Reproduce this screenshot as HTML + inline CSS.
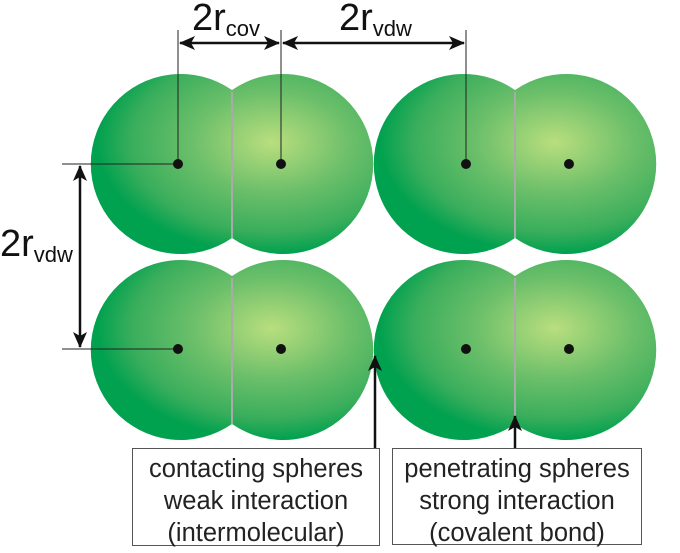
<!DOCTYPE html>
<html><head><style>body{margin:0;background:#fff}</style></head><body>
<svg width="680" height="548" viewBox="0 0 680 548" xmlns="http://www.w3.org/2000/svg" font-family="Liberation Sans, sans-serif">
<defs>
<radialGradient id="g" gradientUnits="objectBoundingBox" cx="0.64" cy="0.38" r="0.62">
<stop offset="0" stop-color="#b9de7e"/><stop offset="0.45" stop-color="#6cbf6a"/><stop offset="0.8" stop-color="#3aae5c"/><stop offset="1" stop-color="#00a14f"/>
</radialGradient>
<marker id="b" markerWidth="16" markerHeight="14" refX="15" refY="7" orient="auto-start-reverse" markerUnits="userSpaceOnUse"><path d="M0,0 L16,7 L0,14 L4,7z" fill="#111"/></marker>
</defs>
<g id="m">
<path d="M232,90 A90,90 0 1 0 232,238 A90,90 0 1 0 232,90z" fill="url(#g)"/>
<line x1="232" y1="92" x2="232" y2="238" stroke="#aaa" stroke-width="2"/>
</g>
<use href="#m" x="283" y="0"/>
<use href="#m" x="0" y="186"/>
<use href="#m" x="283" y="186"/>
<g stroke="#222" stroke-width="1">
<line x1="178" y1="30" x2="178" y2="163"/><line x1="281" y1="30" x2="281" y2="163"/><line x1="466" y1="30" x2="466" y2="163"/>
<line x1="62" y1="164" x2="178" y2="164"/><line x1="62" y1="349" x2="178" y2="349"/>
</g>
<g stroke="#111" stroke-width="2.5">
<line x1="180" y1="43" x2="279" y2="43" marker-start="url(#b)" marker-end="url(#b)"/>
<line x1="283" y1="43" x2="464" y2="43" marker-start="url(#b)" marker-end="url(#b)"/>
<line x1="80" y1="166" x2="80" y2="347" marker-start="url(#b)" marker-end="url(#b)"/>
<line x1="375" y1="448" x2="375" y2="356" marker-end="url(#b)"/>
<line x1="515" y1="448" x2="515" y2="416" marker-end="url(#b)"/>
</g>
<g fill="#111">
<circle cx="178" cy="164" r="5"/><circle cx="281" cy="164" r="5"/><circle cx="466" cy="164" r="5"/><circle cx="569" cy="164" r="5"/>
<circle cx="178" cy="349" r="5"/><circle cx="281" cy="349" r="5"/><circle cx="466" cy="349" r="5"/><circle cx="569" cy="349" r="5"/>
</g>
<g fill="#111">
<text x="192" y="30" font-size="38">2r<tspan font-size="22" dy="6">cov</tspan></text>
<text x="339" y="30" font-size="38">2r<tspan font-size="22" dy="6">vdw</tspan></text>
<text x="0" y="256" font-size="38">2r<tspan font-size="22" dy="6">vdw</tspan></text>
</g>
<rect x="132.5" y="448.5" width="247" height="97" fill="#fff" stroke="#555"/>
<rect x="392.5" y="448.5" width="249" height="96" fill="#fff" stroke="#555"/>
<g font-size="25.5" fill="#222" text-anchor="middle">
<text x="256" y="477">contacting spheres</text><text x="256" y="509">weak interaction</text><text x="256" y="541">(intermolecular)</text>
<text x="517" y="477">penetrating spheres</text><text x="517" y="509">strong interaction</text><text x="517" y="541">(covalent bond)</text>
</g>
</svg>
</body></html>
